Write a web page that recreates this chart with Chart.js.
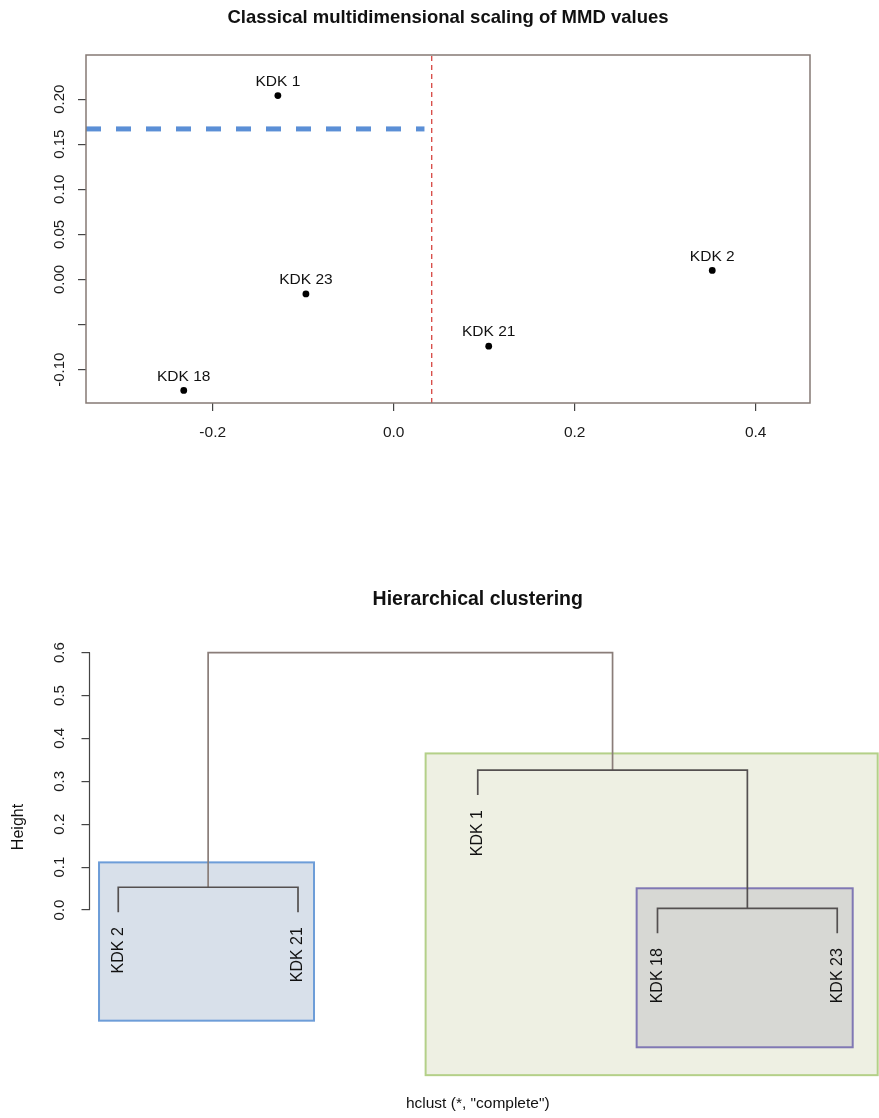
<!DOCTYPE html>
<html><head><meta charset="utf-8">
<script src="https://cdn.jsdelivr.net/npm/chart.js@4.4.1/dist/chart.umd.min.js"></script>
<style>html,body{margin:0;padding:0;background:#fff;width:879px;height:1118px;overflow:hidden}canvas{position:absolute;left:0;display:block}</style>
</head><body>
<canvas id="mds" width="879" height="460" style="top:0"></canvas>
<canvas id="dend" width="879" height="658" style="top:460px"></canvas>
<script>
const FONT = '"Liberation Sans", Arial, Helvetica, sans-serif';

// ---- MDS scatter data ----
const mdsTitle = 'Classical multidimensional scaling of MMD values';
const mdsLabels = ['KDK 1', 'KDK 23', 'KDK 18', 'KDK 21', 'KDK 2'];
const mdsX = [-0.128, -0.097, -0.232, 0.105, 0.352];
const mdsY = [0.204, -0.016, -0.123, -0.074, 0.010];
const mdsXTicks = [-0.2, 0.0, 0.2, 0.4];
const mdsXTickLabels = ['-0.2', '0.0', '0.2', '0.4'];
const mdsYTicks = [-0.10, -0.05, 0.00, 0.05, 0.10, 0.15, 0.20];
const mdsYTickLabels = ['-0.10', '', '0.00', '0.05', '0.10', '0.15', '0.20'];
const mdsXRange = [-0.34, 0.46];
const mdsYRange = [-0.137, 0.249];
const hLineY = 0.167;
const hLineX = [-0.34, 0.034];
const vLineX = 0.042;
const vLineY = [-0.137, 0.249];

// ---- Dendrogram data ----
const dendTitle = 'Hierarchical clustering';
const dendCaption = 'hclust (*, "complete")';
const dendYTitle = 'Height';
const leafLabels = ['KDK 2', 'KDK 21', 'KDK 1', 'KDK 18', 'KDK 23'];
const mergeLeft = [-1, -4, -3, 1];
const mergeRight = [-2, -5, 2, 3];
const mergeHeight = [0.053, 0.004, 0.326, 0.600];
const hang = 0.058;
const dendYTicks = [0.0, 0.1, 0.2, 0.3, 0.4, 0.5, 0.6];
const dendYTickLabels = ['0.0', '0.1', '0.2', '0.3', '0.4', '0.5', '0.6'];
const dendXRange = [0.84, 5.16];
const dendYRange = [-0.4196, 0.6294];
const boxX0 = [0.893, 2.71, 3.884];
const boxX1 = [2.089, 5.225, 5.086];
const boxYTop = [0.111, 0.365, 0.0506];
const boxYBottom = [-0.258, -0.385, -0.32];
const boxFill = ['#d8e0ea', '#eef0e3', '#d7d8d4'];
const boxStroke = ['#6d9dd8', '#b4d088', '#8078b4'];

// ================= MDS chart =================
const mdsDecor = {
  id: 'mdsDecor',
  afterDatasetsDraw(chart) {
    const {ctx, chartArea: a, scales: {x, y}} = chart;
    ctx.save();
    ctx.strokeStyle = '#857974';
    ctx.lineWidth = 1.5;
    ctx.strokeRect(a.left, a.top, a.right - a.left, a.bottom - a.top);
    ctx.fillStyle = '#111';
    ctx.font = '15.5px ' + FONT;
    ctx.textAlign = 'center';
    ctx.textBaseline = 'middle';
    for (let i = 0; i < mdsLabels.length; i++) {
      ctx.fillText(mdsLabels[i], x.getPixelForValue(mdsX[i]), y.getPixelForValue(mdsY[i]) - 14);
    }
    ctx.font = 'bold 18.5px ' + FONT;
    ctx.fillText(mdsTitle, (a.left + a.right) / 2, 18);
    ctx.restore();
  }
};

new Chart(document.getElementById('mds'), {
  type: 'scatter',
  data: {
    datasets: [
      {
        data: [{x: vLineX, y: vLineY[0]}, {x: vLineX, y: vLineY[1]}],
        showLine: true, borderColor: '#d64541', borderWidth: 1.3, borderDash: [5, 4],
        pointRadius: 0, fill: false
      },
      {
        data: [{x: hLineX[0], y: hLineY}, {x: hLineX[1], y: hLineY}],
        showLine: true, borderColor: '#5b8fd6', borderWidth: 5, borderDash: [15, 15],
        pointRadius: 0, fill: false
      },
      {
        data: mdsX.map((v, i) => ({x: v, y: mdsY[i]})),
        pointRadius: 3.4, pointBackgroundColor: '#000', pointBorderColor: '#000', pointBorderWidth: 0,
        showLine: false
      }
    ]
  },
  options: {
    responsive: false, animation: false,
    layout: {padding: {left: 0, right: 69, top: 55, bottom: 0}},
    plugins: {legend: {display: false}, tooltip: {enabled: false}, title: {display: false}},
    scales: {
      x: {
        type: 'linear', min: mdsXRange[0], max: mdsXRange[1],
        afterBuildTicks: s => { s.ticks = mdsXTicks.map(v => ({value: v})); },
        afterFit: s => { s.height = 57; },
        ticks: {autoSkip: false, maxRotation: 0, padding: 12.5, color: '#1a1a1a', font: {family: FONT, size: 15.5},
          callback: v => mdsXTickLabels[mdsXTicks.indexOf(v)]},
        grid: {drawOnChartArea: false, drawTicks: true, tickLength: 8, color: '#444', lineWidth: 1.2},
        border: {display: false}
      },
      y: {
        type: 'linear', min: mdsYRange[0], max: mdsYRange[1],
        afterBuildTicks: s => { s.ticks = mdsYTicks.map(v => ({value: v})); },
        afterFit: s => { s.width = 86; },
        ticks: {autoSkip: false, minRotation: 90, maxRotation: 90, crossAlign: 'center', padding: 1.5,
          color: '#1a1a1a', font: {family: FONT, size: 15},
          callback: v => mdsYTickLabels[mdsYTicks.indexOf(v)]},
        grid: {drawOnChartArea: false, drawTicks: true, tickLength: 8, color: '#444', lineWidth: 1.2},
        border: {display: false}
      }
    }
  },
  plugins: [mdsDecor]
});

// ================= Dendrogram =================
const clusterX = [];
const leafBottom = [];
const segments = [];
function nodeX(ref) { return ref < 0 ? -ref : clusterX[ref - 1]; }
function nodeTop(ref, h) {
  if (ref < 0) { leafBottom[-ref - 1] = h - hang; return h - hang; }
  return mergeHeight[ref - 1];
}
for (let i = 0; i < mergeHeight.length; i++) {
  const h = mergeHeight[i];
  const xl = nodeX(mergeLeft[i]), xr = nodeX(mergeRight[i]);
  const yl = nodeTop(mergeLeft[i], h), yr = nodeTop(mergeRight[i], h);
  clusterX[i] = (xl + xr) / 2;
  segments.push([{x: xl, y: yl}, {x: xl, y: h}, {x: xr, y: h}, {x: xr, y: yr}]);
}

const dendDecor = {
  id: 'dendDecor',
  beforeDatasetsDraw(chart) {
    const {ctx, scales: {x, y}} = chart;
    ctx.save();
    for (let i = 0; i < boxX0.length; i++) {
      const px0 = x.getPixelForValue(boxX0[i]), px1 = x.getPixelForValue(boxX1[i]);
      const py0 = y.getPixelForValue(boxYTop[i]), py1 = y.getPixelForValue(boxYBottom[i]);
      ctx.fillStyle = boxFill[i];
      ctx.fillRect(px0, py0, px1 - px0, py1 - py0);
      ctx.strokeStyle = boxStroke[i];
      ctx.lineWidth = 2;
      ctx.strokeRect(px0, py0, px1 - px0, py1 - py0);
    }
    ctx.restore();
  },
  afterDraw(chart) {
    const {ctx, chartArea: a, scales: {x, y}} = chart;
    ctx.save();
    // y axis line spanning tick range
    ctx.strokeStyle = '#444';
    ctx.lineWidth = 1.2;
    ctx.beginPath();
    ctx.moveTo(y.right, y.getPixelForValue(dendYTicks[0]));
    ctx.lineTo(y.right, y.getPixelForValue(dendYTicks[dendYTicks.length - 1]));
    ctx.stroke();
    ctx.fillStyle = '#111';
    // leaf labels
    ctx.font = '16px ' + FONT;
    ctx.textAlign = 'right';
    ctx.textBaseline = 'middle';
    for (let i = 0; i < leafLabels.length; i++) {
      ctx.save();
      ctx.translate(x.getPixelForValue(i + 1), y.getPixelForValue(leafBottom[i]) + 15);
      ctx.rotate(-Math.PI / 2);
      ctx.fillText(leafLabels[i], 0, 0);
      ctx.restore();
    }
    // y title
    ctx.save();
    ctx.translate(19, 367);
    ctx.rotate(-Math.PI / 2);
    ctx.textAlign = 'center';
    ctx.fillText(dendYTitle, 0, 0);
    ctx.restore();
    // caption
    ctx.textAlign = 'center';
    ctx.font = '15.5px ' + FONT;
    ctx.fillText(dendCaption, (a.left + a.right) / 2, 644);
    // title
    ctx.font = 'bold 19.5px ' + FONT;
    ctx.fillText(dendTitle, (a.left + a.right) / 2, 140);
    ctx.restore();
  }
};

new Chart(document.getElementById('dend'), {
  type: 'scatter',
  data: {
    datasets: segments.map((seg, i) => ({
      data: seg, showLine: true, pointRadius: 0, fill: false, tension: 0,
      borderColor: i === segments.length - 1 ? '#8a7d79' : '#545050', borderWidth: 1.7,
      clip: false
    }))
  },
  options: {
    responsive: false, animation: false,
    layout: {padding: {left: 0, right: 13, top: 180, bottom: 28}},
    plugins: {legend: {display: false}, tooltip: {enabled: false}, title: {display: false}},
    scales: {
      x: {type: 'linear', display: false, min: dendXRange[0], max: dendXRange[1]},
      y: {
        type: 'linear', min: dendYRange[0], max: dendYRange[1],
        afterBuildTicks: s => { s.ticks = dendYTicks.map(v => ({value: v})); },
        afterFit: s => { s.width = 89.5; },
        ticks: {autoSkip: false, minRotation: 90, maxRotation: 90, crossAlign: 'center', padding: 11,
          color: '#1a1a1a', font: {family: FONT, size: 15},
          callback: v => dendYTickLabels[dendYTicks.indexOf(v)]},
        grid: {drawOnChartArea: false, drawTicks: true, tickLength: 8, color: '#444', lineWidth: 1.2},
        border: {display: false}
      }
    }
  },
  plugins: [dendDecor]
});
</script>
</body></html>
